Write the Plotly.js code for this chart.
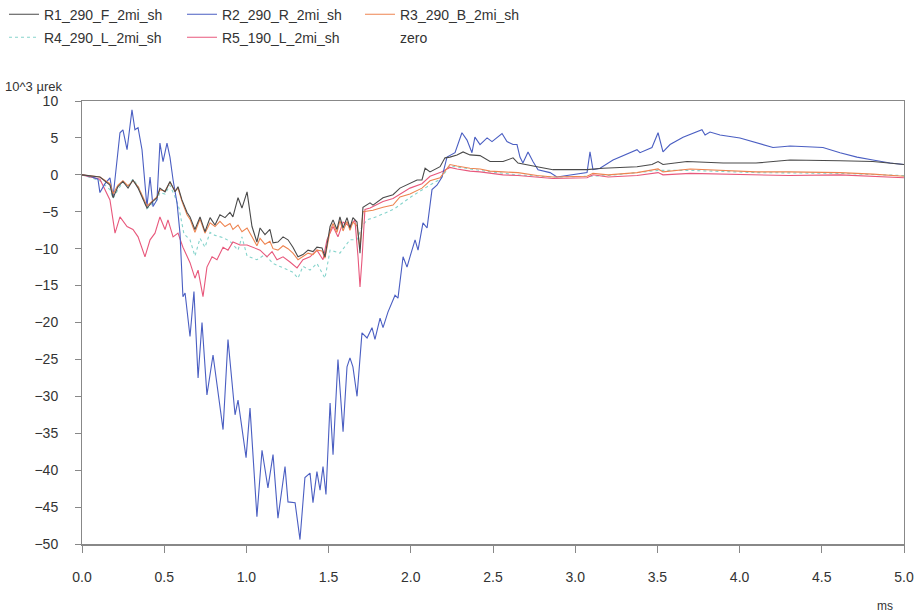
<!DOCTYPE html>
<html>
<head>
<meta charset="utf-8">
<script src="https://cdn.plot.ly/plotly-3.0.1.min.js"></script>
<style>html,body{margin:0;padding:0;background:#fff;}#chart{width:917px;height:614px;}</style>
</head>
<body>
<div id="chart"></div>
<script>
// Time axis (ms) and strain values (10^3 µrek)
const r1X = [0,0.05,0.109,0.170,0.189,0.219,0.249,0.280,0.310,0.341,0.395,0.426,0.456,0.474,0.505,0.535,0.566,0.584,0.608,0.639,0.657,0.687,0.718,0.748,0.779,0.809,0.839,0.870,0.900,0.918,0.949,0.973,1.004,1.034,1.064,1.083,1.113,1.143,1.162,1.192,1.223,1.253,1.283,1.314,1.344,1.375,1.405,1.429,1.460,1.478,1.509,1.527,1.551,1.569,1.588,1.612,1.630,1.648,1.673,1.691,1.709,1.752,1.770,1.831,1.892,1.934,1.995,2.038,2.068,2.087,2.117,2.178,2.208,2.238,2.281,2.318,2.360,2.421,2.482,2.561,2.622,2.652,2.768,2.865,3.072,3.169,3.376,3.467,3.504,3.534,3.680,3.900,4.100,4.307,4.611,4.811,5.0];
const r1Y = [0,-0.1,-0.3,-1.4,-3.1,-1.6,-0.9,-1.8,-0.7,-1.8,-4.5,-3.7,-3.1,-1.8,-2.3,-0.9,-2.3,-1.6,-3.4,-5.1,-5.7,-7.4,-5.7,-7.7,-5.8,-6.8,-5.4,-5.8,-5.1,-5.7,-3.1,-4.5,-2.3,-7.0,-9.1,-7.2,-8.1,-7.4,-9.2,-9.1,-8.4,-8.8,-9.8,-11.1,-10.8,-10.2,-10.4,-9.8,-9.9,-11.1,-7.0,-6.1,-7.4,-5.7,-7.2,-5.8,-7.2,-5.8,-6.4,-10.6,-4.4,-3.8,-4.1,-3.1,-2.7,-1.8,-1.1,-0.7,-0.7,0.9,0.4,1.1,2.3,2.4,2.7,3.1,2.7,2.6,1.8,1.8,2.3,1.6,1.1,0.7,0.7,0.9,1.1,1.4,1.8,1.4,1.8,1.6,1.6,2.0,1.9,1.8,1.4];

const r2X = [0,0.05,0.097,0.109,0.140,0.170,0.189,0.231,0.249,0.274,0.304,0.322,0.341,0.365,0.395,0.414,0.432,0.456,0.474,0.493,0.517,0.535,0.554,0.578,0.596,0.614,0.627,0.657,0.681,0.706,0.730,0.760,0.797,0.858,0.888,0.931,0.949,0.998,1.022,1.064,1.095,1.131,1.162,1.192,1.235,1.253,1.296,1.326,1.356,1.387,1.405,1.429,1.448,1.466,1.484,1.509,1.527,1.557,1.588,1.612,1.630,1.648,1.673,1.703,1.734,1.764,1.782,1.813,1.831,1.861,1.904,1.922,1.953,1.977,1.995,2.026,2.044,2.074,2.099,2.129,2.159,2.190,2.220,2.269,2.311,2.342,2.372,2.390,2.421,2.464,2.494,2.555,2.585,2.622,2.646,2.664,2.682,2.713,2.743,2.774,2.847,2.889,3.072,3.090,3.108,3.151,3.230,3.333,3.376,3.394,3.467,3.504,3.534,3.577,3.656,3.771,3.790,3.820,3.881,4.002,4.106,4.203,4.258,4.307,4.410,4.507,4.611,4.714,4.811,4.915,5.0];
const r2Y = [0,-0.2,-0.6,-2.4,-1.2,-0.4,-3.0,5.7,6.1,3.4,8.8,6.1,6.4,3.4,-4.3,-0.3,-4.3,-3.4,4.3,1.8,4.3,2.4,-0.7,-3.8,-7.9,-16.5,-16.0,-21.9,-15.8,-27.5,-20.0,-29.8,-24.4,-34.5,-22.3,-32.5,-30.5,-38.3,-31.6,-46.3,-37.3,-42.4,-37.9,-46.5,-39.5,-44.3,-44.4,-49.4,-41.0,-40.4,-44.4,-40.2,-42.7,-39.5,-43.3,-30.9,-37.9,-25.0,-34.8,-26.0,-24.8,-26.0,-30.0,-21.4,-22.1,-20.7,-22.3,-19.4,-20.7,-18.6,-16.3,-16.7,-11.1,-12.5,-11.1,-8.8,-10.2,-6.5,-7.2,-2.0,-1.4,-0.3,2.4,3.0,5.7,4.7,3.0,5.1,4.1,5.0,4.5,5.6,4.5,4.1,4.1,2.4,1.6,3.1,1.8,0.7,0.3,-0.3,0.3,3.1,0.7,0.9,2.0,3.0,3.4,3.0,3.7,5.7,3.1,4.1,5.1,6.1,5.4,5.8,5.4,5.0,4.3,3.7,3.8,3.9,3.8,3.7,3.0,2.4,2.0,1.6,1.4];

const r3X = [0,0.109,0.170,0.189,0.219,0.249,0.280,0.310,0.341,0.395,0.426,0.456,0.474,0.505,0.535,0.566,0.584,0.608,0.639,0.657,0.687,0.718,0.748,0.779,0.809,0.839,0.870,0.900,0.918,0.949,0.973,1.004,1.034,1.064,1.083,1.113,1.143,1.162,1.192,1.223,1.253,1.283,1.314,1.344,1.375,1.405,1.429,1.460,1.478,1.509,1.527,1.551,1.569,1.588,1.612,1.630,1.648,1.673,1.691,1.709,1.770,1.831,1.892,1.934,1.995,2.068,2.117,2.178,2.238,2.281,2.360,2.421,2.482,2.561,2.652,2.768,2.865,3.072,3.108,3.200,3.376,3.504,3.534,3.700,3.900,4.100,4.300,4.611,4.811,5.0];
const r3Y = [0,-0.3,-1.2,-2.6,-1.4,-0.8,-1.5,-0.8,-1.6,-4.2,-3.6,-3.0,-2.0,-2.2,-1.0,-2.2,-1.8,-3.6,-5.4,-6.0,-7.8,-6.0,-7.9,-6.5,-7.0,-6.3,-7.0,-6.6,-7.4,-6.8,-7.7,-7.2,-8.4,-9.6,-8.6,-9.4,-9.0,-10.0,-10.2,-9.6,-10.0,-10.6,-11.5,-11.0,-10.6,-10.8,-10.2,-10.3,-11.3,-7.6,-6.6,-7.8,-6.2,-7.6,-6.3,-7.5,-6.4,-6.9,-10.0,-5.0,-4.8,-4.4,-4.1,-3.0,-2.6,-1.8,-0.8,-0.4,1.4,1.2,0.9,0.8,0.5,0.4,0.3,-0.1,-0.3,-0.2,0.2,0.0,0.3,0.8,0.4,0.8,0.6,0.4,0.4,0.3,0.1,-0.2];

const r4X = [0,0.109,0.170,0.189,0.219,0.249,0.280,0.310,0.341,0.395,0.426,0.456,0.474,0.505,0.535,0.566,0.590,0.620,0.657,0.687,0.718,0.748,0.779,0.809,0.858,0.900,0.949,0.973,1.004,1.064,1.113,1.162,1.223,1.283,1.314,1.344,1.387,1.429,1.478,1.509,1.569,1.630,1.673,1.703,1.734,1.800,1.900,2.000,2.100,2.178,2.238,2.360,2.482,2.652,2.865,3.072,3.200,3.504,3.700,4.100,4.611,5.0];
const r4Y = [0,-0.8,-2.0,-3.2,-2.0,-1.0,-1.5,-0.6,-1.5,-4.6,-4.0,-3.4,-2.4,-2.6,-1.4,-3.0,-4.5,-8.0,-8.8,-11.0,-8.6,-9.8,-7.8,-8.2,-8.5,-9.0,-10.2,-8.4,-11.0,-11.5,-10.8,-12.0,-12.6,-13.2,-14.0,-12.4,-12.9,-12.0,-14.0,-10.2,-10.6,-8.8,-8.8,-7.0,-6.1,-5.6,-4.6,-3.0,-1.6,-0.6,1.2,0.8,0.4,0.0,-0.3,-0.2,-0.1,0.6,0.6,0.3,0.2,-0.1];

const r5X = [0,0.109,0.170,0.201,0.231,0.274,0.310,0.341,0.383,0.414,0.444,0.474,0.505,0.523,0.554,0.584,0.614,0.657,0.687,0.706,0.736,0.760,0.791,0.821,0.858,0.888,0.918,0.961,1.004,1.040,1.083,1.125,1.156,1.186,1.223,1.265,1.308,1.344,1.387,1.429,1.466,1.490,1.527,1.557,1.588,1.630,1.660,1.679,1.691,1.703,1.721,1.752,1.831,1.892,1.953,1.995,2.068,2.117,2.178,2.238,2.281,2.360,2.421,2.482,2.561,2.652,2.768,2.865,3.072,3.108,3.200,3.376,3.504,3.534,3.700,3.900,4.100,4.300,4.611,4.811,5.0];
const r5Y = [0,-0.6,-3.4,-7.9,-5.7,-7.0,-7.4,-8.4,-11.1,-8.8,-7.9,-5.7,-7.4,-6.1,-8.4,-7.9,-9.8,-11.9,-14.0,-12.9,-16.5,-12.5,-11.1,-11.5,-9.8,-10.2,-9.1,-9.5,-9.5,-9.8,-10.2,-11.1,-10.4,-11.5,-11.1,-11.8,-12.6,-11.5,-11.1,-10.2,-11.5,-8.8,-7.0,-8.4,-6.4,-7.0,-6.1,-11.1,-15.2,-11.5,-4.7,-4.5,-3.6,-3.2,-2.4,-1.8,-1.2,-0.2,0.3,1.0,0.8,0.5,0.4,0.2,0.0,-0.1,-0.3,-0.5,-0.4,0.0,-0.3,-0.1,0.3,0.0,0.2,0.1,-0.1,-0.1,0.0,-0.2,-0.4];

const zeroX = [0,5];
const zeroY = [0,0];

const seriesNames = ['R1_290_F_2mi_sh','R2_290_R_2mi_sh','R3_290_B_2mi_sh','R4_290_L_2mi_sh','R5_190_L_2mi_sh','zero'];
const xTickVals = [0,0.5,1,1.5,2,2.5,3,3.5,4,4.5,5];
const yTickVals = [-50,-45,-40,-35,-30,-25,-20,-15,-10,-5,0,5,10];

const font = 'Liberation Sans, Arial, sans-serif';
function tr(x, y, name, color, dash, legend, rank) {
  return {x: x, y: y, name: name, type: 'scatter', mode: 'lines', legendrank: rank,
    line: {color: color, width: 1.1, dash: dash || 'solid'}, legend: legend, hoverinfo: 'skip'};
}
const data = [
  tr(r4X, r4Y, seriesNames[3], '#86d4cc', 'dot', 'legend2', 1),
  tr(r5X, r5Y, seriesNames[4], '#e8587c', 'solid', 'legend2', 2),
  tr(zeroX, zeroY, seriesNames[5], 'rgba(0,0,0,0)', 'solid', 'legend2', 3),
  tr(r2X, r2Y, seriesNames[1], '#4a5ec2', 'solid', 'legend', 2),
  tr(r3X, r3Y, seriesNames[2], '#ee8450', 'solid', 'legend', 3),
  tr(r1X, r1Y, seriesNames[0], '#4a4a4a', 'solid', 'legend', 1)
];
const legBase = {orientation: 'h', xanchor: 'left', yanchor: 'top', entrywidth: 133, entrywidthmode: 'pixels',
  font: {family: font, size: 14, color: '#333'}, bgcolor: 'rgba(0,0,0,0)', traceorder: 'normal'};
const layout = {
  width: 917, height: 614,
  margin: {l: 82, r: 13, t: 101, b: 70, autoexpand: false},
  paper_bgcolor: '#fff', plot_bgcolor: '#fff',
  showlegend: true,
  legend: Object.assign({}, legBase, {x: -0.0949, y: 1.231}),
  legend2: Object.assign({}, legBase, {x: -0.0949, y: 1.179}),
  xaxis: {range: [0, 5], tickvals: xTickVals, tickformat: '.1f', ticks: 'outside', ticklen: 7, tickcolor: '#888',
    showline: true, linecolor: '#888', linewidth: 1.5, mirror: true, showgrid: false, zeroline: false,
    tickfont: {family: font, size: 14, color: '#333'}, ticklabelstandoff: 13},
  yaxis: {range: [-50, 10], tickvals: yTickVals, ticks: 'outside', ticklen: 6, tickcolor: '#888',
    showline: true, linecolor: '#888', linewidth: 1, mirror: true, showgrid: false, zeroline: false,
    tickfont: {family: font, size: 14, color: '#333'}, ticklabelstandoff: 14},
  annotations: [
    {text: '10^3 µrek', xref: 'paper', yref: 'paper', x: -0.096, y: 1.0, xanchor: 'left', yanchor: 'bottom', yshift: 5,
      showarrow: false, font: {family: font, size: 13, color: '#333'}},
    {text: 'ms', xref: 'paper', yref: 'paper', x: 0.965, y: 0, yshift: -62, xanchor: 'left', yanchor: 'middle',
      showarrow: false, font: {family: font, size: 12, color: '#333'}}
  ]
};
Plotly.newPlot('chart', data, layout, {displayModeBar: false, staticPlot: true});
</script>
</body>
</html>
